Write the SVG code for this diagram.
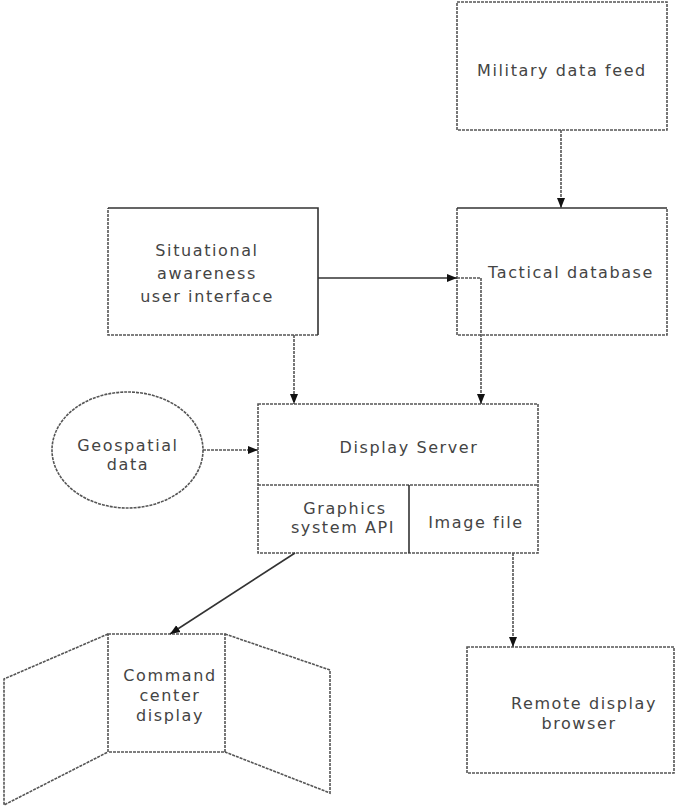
<svg xmlns="http://www.w3.org/2000/svg" width="676" height="807" viewBox="0 0 676 807">
<style>
.dot{fill:none;stroke:#555;stroke-width:1.6;stroke-dasharray:3,1}
.sol{fill:none;stroke:#333;stroke-width:1.6}
.lbl{font-family:"DejaVu Sans","Liberation Sans",sans-serif;font-size:16px;fill:#444;text-anchor:middle;letter-spacing:1.6px}
</style>
<defs>
<marker id="ah" markerUnits="userSpaceOnUse" markerWidth="10" markerHeight="10" viewBox="0 0 10 10" refX="10" refY="5" orient="auto">
<path d="M0,1 L10,5 L0,9 Z" fill="#111"/>
</marker>
</defs>
<rect width="676" height="807" fill="#fff"/>
<g id="military">
<rect class="dot" x="457" y="2" width="210" height="128"/>
<text class="lbl" x="562" y="76">Military data feed</text>
</g>
<g id="tactical">
<path class="dot" d="M457,208 V335 H667 V208"/>
<path class="sol" d="M457,208 H667"/>
<text class="lbl" x="571" y="278">Tactical database</text>
</g>
<g id="situational">
<path class="dot" d="M318,335 H108 V208"/>
<path class="sol" d="M108,208 H318 V335"/>
<text class="lbl" x="207" y="256">Situational</text>
<text class="lbl" x="207" y="279">awareness</text>
<text class="lbl" x="207" y="302">user interface</text>
</g>
<g id="geospatial">
<ellipse class="dot" cx="127.5" cy="450" rx="75.5" ry="58"/>
<text class="lbl" x="128" y="451">Geospatial</text>
<text class="lbl" x="128" y="470">data</text>
</g>
<g id="display-server">
<rect class="dot" x="258" y="404" width="280" height="149"/>
<path class="dot" d="M258,485 H538"/>
<path class="sol" d="M409,485 V553"/>
<text class="lbl" x="409" y="453">Display Server</text>
<text class="lbl" x="345" y="514">Graphics</text>
<text class="lbl" x="343" y="533">system API</text>
<text class="lbl" x="476" y="528">Image file</text>
</g>
<g id="command-center">
<rect class="dot" x="108" y="634" width="117" height="118"/>
<path class="dot" d="M108,634 L4,679 V805 L108,752"/>
<path class="dot" d="M225,634 L330,670 V793 L225,752"/>
<text class="lbl" x="170" y="681">Command</text>
<text class="lbl" x="170" y="701">center</text>
<text class="lbl" x="170" y="721">display</text>
</g>
<g id="remote">
<rect class="dot" x="467" y="647" width="207" height="126"/>
<text class="lbl" x="584" y="709">Remote display</text>
<text class="lbl" x="579" y="729">browser</text>
</g>
<g id="connectors">
<path class="dot" d="M561,130 V208" marker-end="url(#ah)"/>
<path class="sol" d="M318,278 H457" marker-end="url(#ah)"/>
<path class="dot" d="M457,278 H481 V404" marker-end="url(#ah)"/>
<path class="dot" d="M294,335 V404" marker-end="url(#ah)"/>
<path class="dot" d="M203,450 H258" marker-end="url(#ah)"/>
<path class="sol" d="M295,553 L170,634" marker-end="url(#ah)"/>
<path class="dot" d="M513,553 V647" marker-end="url(#ah)"/>
</g>
</svg>
